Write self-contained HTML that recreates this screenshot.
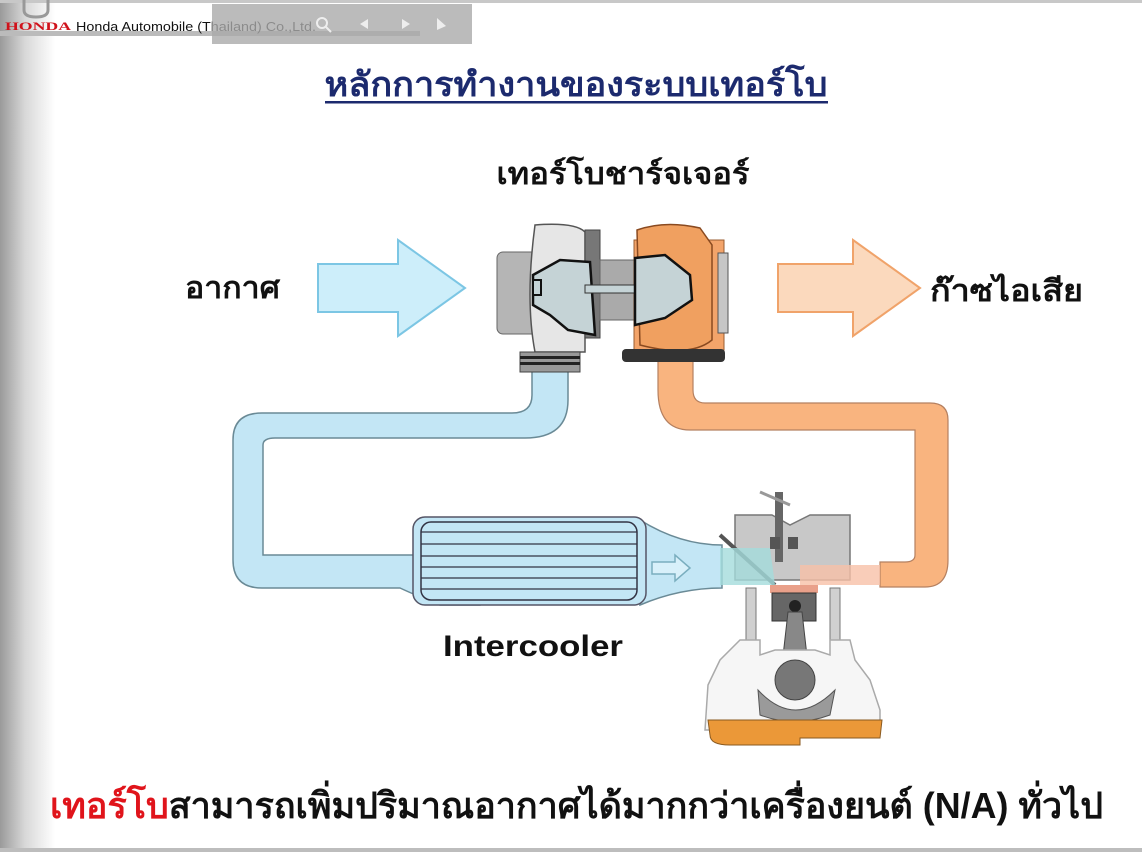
<!DOCTYPE html>
<html><head><meta charset="utf-8"><style>
html,body{margin:0;padding:0;background:#fff}
#c{position:relative;width:1142px;height:852px;overflow:hidden;background:linear-gradient(to right,#9a9a9a 0px,#d8d8d8 25px,#fff 55px,#fff 100%)}
svg{position:absolute;left:0;top:0}
</style></head><body><div id="c">
<svg width="1142" height="852" viewBox="0 0 1142 852" font-family="'Liberation Sans','Noto Sans CJK SC',sans-serif">
<!-- header -->
<rect x="0" y="0" width="1142" height="3" fill="#c8c8c8"/>
<rect x="0" y="31" width="420" height="5" fill="#bbb"/>
<path d="M24 0 L24 10 Q24 17 36 17 Q48 17 48 10 L48 0" fill="none" stroke="#999" stroke-width="3"/>
<text x="5" y="30" font-family="'Liberation Serif',serif" font-weight="bold" font-size="12" fill="#d0121b" textLength="66" lengthAdjust="spacingAndGlyphs">HONDA</text>
<text x="76" y="31" font-size="13" fill="#111" textLength="240" lengthAdjust="spacingAndGlyphs">Honda Automobile (Thailand) Co.,Ltd.</text>
<rect x="212" y="4" width="260" height="40" fill="#aaa" opacity="0.8"/>
<circle cx="322" cy="23" r="5" fill="none" stroke="#eee" stroke-width="2"/><line x1="326" y1="27" x2="331" y2="32" stroke="#eee" stroke-width="2"/>
<path d="M360 24 L368 19 L368 29Z" fill="#eee"/><path d="M410 24 L402 19 L402 29Z" fill="#eee"/>
<path d="M437 18 L446 26 L437 30Z" fill="#eee"/>
<!-- title -->
<text x="576" y="96" text-anchor="middle" font-size="34" font-weight="bold" fill="#1c2a6e" textLength="503" lengthAdjust="spacingAndGlyphs">หลักการทำงานของระบบเทอร์โบ</text>
<rect x="325" y="101" width="503" height="2.5" fill="#1c2a6e"/>
<text x="623" y="184" text-anchor="middle" font-size="30" font-weight="bold" fill="#111" textLength="253" lengthAdjust="spacingAndGlyphs">เทอร์โบชาร์จเจอร์</text>
<text x="185" y="298" font-size="30" font-weight="bold" fill="#111" textLength="95" lengthAdjust="spacingAndGlyphs">อากาศ</text>
<text x="930" y="301" font-size="30" font-weight="bold" fill="#111" textLength="153" lengthAdjust="spacingAndGlyphs">ก๊าซไอเสีย</text>
<!-- arrows -->
<path d="M318 264 L398 264 L398 240 L465 288 L398 336 L398 312 L318 312Z" fill="#cdeefa" stroke="#7cc6e4" stroke-width="2"/>
<path d="M778 264 L853 264 L853 240 L920 288 L853 336 L853 312 L778 312Z" fill="#fbd9bd" stroke="#f0a36a" stroke-width="2"/>
<!-- blue pipe -->
<path d="M532 370 L532 395 Q532 413 512 413 L262 413 Q233 413 233 440 L233 560 Q233 588 262 588 L400 588 Q415 595 440 605 L480 605 L480 540 L440 540 L415 555 L263 555 L263 445 Q263 438 275 438 L525 438 Q568 438 568 400 L568 370Z" fill="#c3e6f5" stroke="#6a8a96" stroke-width="1.5"/>
<path d="M640 520 Q680 545 722 545 L722 588 Q680 588 640 605Z" fill="#c3e6f5" stroke="#6a8a96" stroke-width="1.5"/>
<rect x="413" y="517" width="233" height="88" rx="12" fill="#c3e6f5" stroke="#556" stroke-width="1.5"/>
<rect x="421" y="522" width="216" height="78" rx="10" fill="#c3e6f5" stroke="#334" stroke-width="1.5"/>
<g stroke="#334" stroke-width="1.3"><line x1="421" y1="532" x2="637" y2="532"/><line x1="421" y1="544" x2="637" y2="544"/><line x1="421" y1="556" x2="637" y2="556"/><line x1="421" y1="567" x2="637" y2="567"/><line x1="421" y1="578" x2="637" y2="578"/><line x1="421" y1="589" x2="637" y2="589"/></g>
<path d="M652 562 L675 562 L675 555 L690 568 L675 581 L675 574 L652 574Z" fill="#d8f0fa" stroke="#7aaebf" stroke-width="1.5"/>
<!-- orange pipe -->
<path d="M658 360 L658 390 Q658 430 690 430 L915 430 L915 555 Q915 562 905 562 L880 562 L880 587 L925 587 Q948 587 948 560 L948 420 Q948 403 930 403 L705 403 Q693 403 693 390 L693 360Z" fill="#f9b47f" stroke="#b58060" stroke-width="1.2"/>
<!-- turbo -->
<rect x="497" y="252" width="60" height="82" rx="6" fill="#b5b5b5" stroke="#666"/>
<path d="M535 225 Q575 222 585 232 L585 352 L535 352 Q525 300 535 225Z" fill="#e6e6e6" stroke="#555" stroke-width="1.5"/>
<rect x="585" y="230" width="15" height="108" fill="#777" stroke="#444"/>
<rect x="600" y="260" width="40" height="60" fill="#aaa" stroke="#666"/>
<rect x="520" y="352" width="60" height="20" fill="#999" stroke="#444"/>
<rect x="520" y="356" width="60" height="3" fill="#222"/><rect x="520" y="362" width="60" height="3" fill="#222"/>
<rect x="634" y="240" width="90" height="110" fill="#f3a46a" stroke="#9a5c30"/>
<path d="M637 230 Q665 220 700 228 L712 245 L712 340 Q690 358 640 345Z" fill="#f0a060" stroke="#8a4a20" stroke-width="1.5"/>
<rect x="718" y="253" width="10" height="80" fill="#c6c6c6" stroke="#555"/>
<rect x="622" y="349" width="103" height="13" rx="4" fill="#333"/>
<path d="M533 275 L560 260 L590 262 L595 335 L568 330 L550 315 L533 305Z" fill="#c5d3d6" stroke="#111" stroke-width="2.5"/>
<rect x="533" y="280" width="8" height="15" fill="#c5d3d6" stroke="#111" stroke-width="2"/>
<rect x="585" y="285" width="60" height="8" fill="#c5d3d6" stroke="#333"/>
<path d="M635 258 L665 255 L690 275 L692 300 L665 318 L635 325Z" fill="#c5d3d6" stroke="#111" stroke-width="2.5"/>
<!-- engine -->
<path d="M735 515 L772 515 L790 525 L810 515 L850 515 L850 580 L735 580Z" fill="#c8c8c8" stroke="#777" stroke-width="1.5"/>
<rect x="775" y="492" width="8" height="70" fill="#666"/>
<line x1="760" y1="492" x2="790" y2="505" stroke="#999" stroke-width="3"/>
<rect x="770" y="537" width="10" height="12" fill="#555"/><rect x="788" y="537" width="10" height="12" fill="#555"/>
<line x1="720" y1="535" x2="775" y2="585" stroke="#555" stroke-width="4"/>
<path d="M720 548 L770 548 L775 585 L720 585Z" fill="#a4dcdc" opacity="0.8"/>
<path d="M800 565 L880 565 L880 585 L800 585Z" fill="#f8c0a8" opacity="0.8"/>
<rect x="770" y="585" width="48" height="8" fill="#e9a08a"/>
<rect x="772" y="593" width="44" height="28" fill="#666" stroke="#333"/>
<circle cx="795" cy="606" r="6" fill="#222"/>
<rect x="746" y="588" width="10" height="52" fill="#d0d0d0" stroke="#777"/>
<rect x="830" y="588" width="10" height="52" fill="#d0d0d0" stroke="#777"/>
<path d="M788 612 L802 612 L808 665 L782 665Z" fill="#888" stroke="#444"/>
<path d="M740 640 L760 640 L760 655 L775 650 L815 650 L830 655 L830 640 L850 640 L855 660 L870 680 L880 710 L880 730 L705 730 L708 685 L720 660Z" fill="#f6f6f6" stroke="#aaa" stroke-width="1.5"/>
<circle cx="795" cy="680" r="20" fill="#777" stroke="#444"/>
<path d="M758 690 Q795 730 835 690 L830 715 Q795 728 760 715Z" fill="#9a9a9a" stroke="#555"/>
<path d="M708 720 L882 720 L880 738 L800 738 L800 745 L730 745 Q710 745 710 735Z" fill="#eb9838" stroke="#8a5a20"/>
<text x="443" y="656" font-size="30" font-weight="bold" fill="#111" textLength="180" lengthAdjust="spacingAndGlyphs">Intercooler</text>
<!-- bottom -->
<text x="50" y="818" font-size="36" font-weight="bold" fill="#111" textLength="1053" lengthAdjust="spacingAndGlyphs"><tspan fill="#e0141b">เทอร์โบ</tspan>สามารถเพิ่มปริมาณอากาศได้มากกว่าเครื่องยนต์ (N/A) ทั่วไป</text>
<rect x="0" y="848" width="1142" height="4" fill="#bdbdbd"/>
</svg>
</div></body></html>
